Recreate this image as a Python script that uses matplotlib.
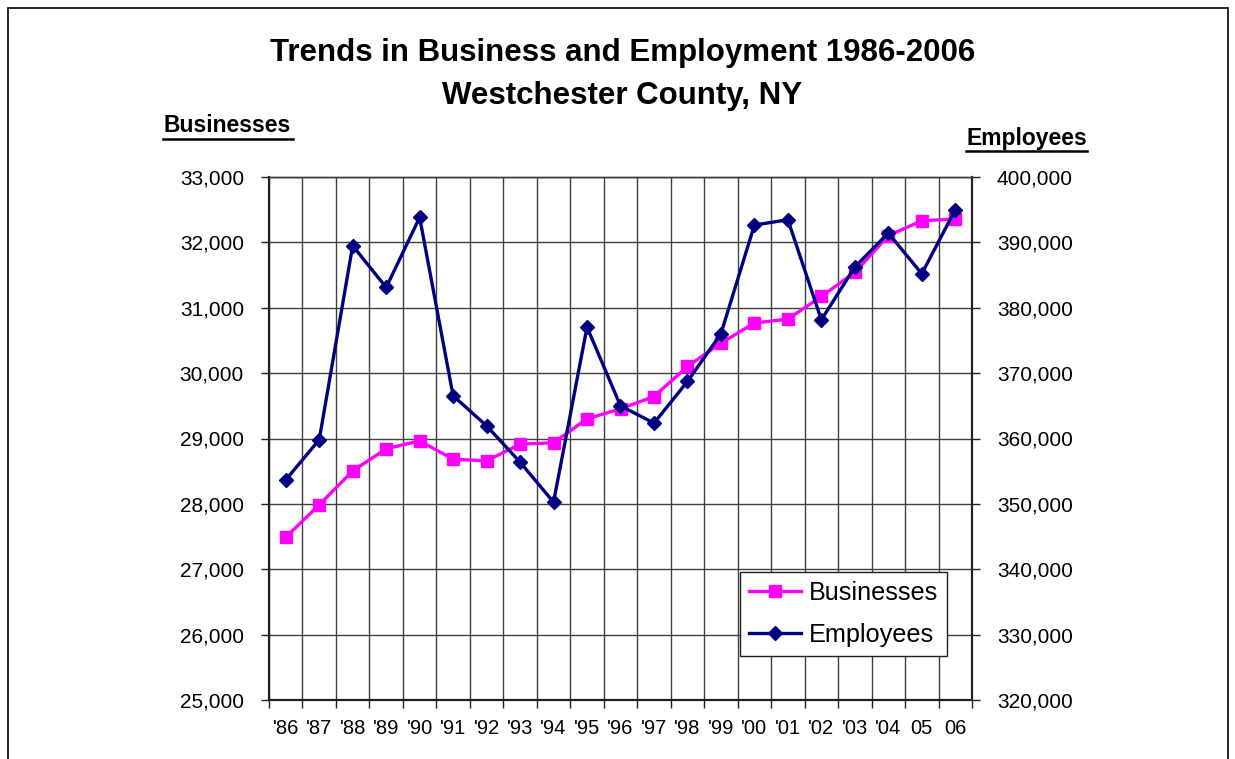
import matplotlib
matplotlib.use("Agg")
import matplotlib.pyplot as plt
from matplotlib.ticker import FuncFormatter, FixedLocator
from matplotlib.patches import Rectangle

plt.rcParams['font.family'] = ['Liberation Sans', 'DejaVu Sans']

years = ["'86", "'87", "'88", "'89", "'90", "'91", "'92", "'93", "'94", "'95", "'96",
         "'97", "'98", "'99", "'00", "'01", "'02", "'03", "'04", "05", "06"]
businesses = [27490, 27985, 28505, 28842, 28964, 28684, 28658, 28914, 28934, 29301, 29454,
              29642, 30102, 30459, 30766, 30827, 31173, 31540, 32102, 32331, 32357]
employees = [353670, 359800, 389490, 383100, 393820, 366530, 361940, 356380, 350260, 377040, 365000,
             362350, 368720, 376020, 392650, 393460, 378160, 386230, 391430, 385200, 395000]
left_ticks = [25000, 26000, 27000, 28000, 29000, 30000, 31000, 32000, 33000]
right_ticks = [320000, 330000, 340000, 350000, 360000, 370000, 380000, 390000, 400000]

W, H = 1235, 759
fig = plt.figure(figsize=(W / 100, H / 100), dpi=100)
ax = fig.add_axes([269 / W, 1 - 700 / H, (972 - 269) / W, (700 - 177) / H])
ax2 = ax.twinx()

x = list(range(len(years)))
l1, = ax.plot(x, businesses, color='#FF00FF', lw=2.4, marker='s', markersize=8,
              markerfacecolor='#FF00FF', markeredgecolor='#FF00FF', label='Businesses')
l2, = ax2.plot(x, employees, color='#000080', lw=2.4, marker='D', markersize=7.5,
               markerfacecolor='#000080', markeredgecolor='#000080', label='Employees')

ax.set_xlim(-0.5, len(years) - 0.5)
ax.set_ylim(left_ticks[0], left_ticks[-1])
ax2.set_ylim(right_ticks[0], right_ticks[-1])
ax.set_yticks(left_ticks)
ax2.set_yticks(right_ticks)
fmt = FuncFormatter(lambda v, p: f"{int(v):,}")
ax.yaxis.set_major_formatter(fmt)
ax2.yaxis.set_major_formatter(fmt)

bounds = [i - 0.5 for i in range(len(years) + 1)]
ax.xaxis.set_major_locator(FixedLocator(bounds))
ax.xaxis.set_minor_locator(FixedLocator(x))
ax.set_xticklabels([''] * len(bounds))
ax.set_xticklabels(years, minor=True)
ax.tick_params(axis='x', which='major', length=6, width=1, color='#202020', direction='out')
ax.tick_params(axis='x', which='minor', length=0, pad=14, labelsize=14.5)
ax.tick_params(axis='y', length=6, width=1, color='#202020', direction='out', labelsize=15, pad=12)
ax2.tick_params(axis='y', length=6, width=1, color='#202020', direction='out', labelsize=15, pad=12)

ax.grid(True, which='major', color='#404040', lw=1.0)
ax.set_axisbelow(True)
for a in (ax, ax2):
    for s in a.spines.values():
        s.set_color('#404040')
        s.set_linewidth(1.0)
    for side in ('left', 'right', 'bottom'):
        a.spines[side].set_color('#202020')
        a.spines[side].set_linewidth(1.5)

leg = ax2.legend(handles=[l1, l2], loc='upper left', bbox_to_anchor=((740 - 269) / 703, (700 - 572) / 523),
                 fontsize=18.2, frameon=True, fancybox=False, framealpha=1, edgecolor='#202020',
                 borderpad=0.36, handlelength=2.05, handletextpad=0.3, labelspacing=0.7,
                 borderaxespad=0)
leg.get_frame().set_linewidth(1.0)

fig.text(0.504, 1 - 53 / H, 'Trends in Business and Employment 1986-2006', ha='center', va='center',
         fontsize=22.5, fontweight='bold')
fig.text(0.504, 1 - 96 / H, 'Westchester County, NY', ha='center', va='center',
         fontsize=22.5, fontweight='bold')
fig.text(163 / W, 1 - 126 / H, 'Businesses', ha='left', va='center', fontsize=16.5,
         fontweight='bold')
fig.text(966 / W, 1 - 138 / H, 'Employees', ha='left', va='center', fontsize=16.5,
         fontweight='bold')
fig.add_artist(plt.Line2D([163 / W, 293 / W], [1 - 139 / H, 1 - 139 / H], color='black', lw=1.8))
fig.add_artist(plt.Line2D([966 / W, 1087 / W], [1 - 151 / H, 1 - 151 / H], color='black', lw=1.8))

fig.add_artist(Rectangle((8 / W, -0.05), (1228 - 8) / W, (759 - 8) / H + 0.05, transform=fig.transFigure,
                         fill=False, edgecolor='black', lw=1.2))

fig.savefig('out.png', dpi=100)
